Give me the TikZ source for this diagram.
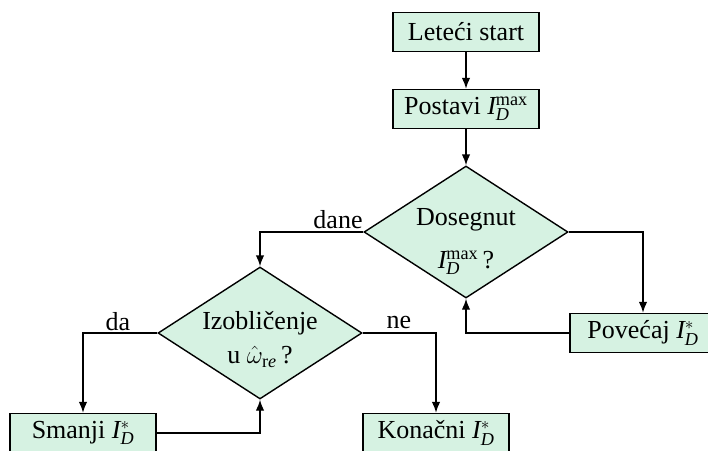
\documentclass[tikz,border=0pt]{standalone}
\usepackage{fontspec}
\setmainfont{Liberation Serif}
\setmathrm{Liberation Serif}
\usetikzlibrary{shapes.geometric,arrows.meta}
\definecolor{fillc}{RGB}{214,242,226}
\newcommand{\myI}{\mathit{I}}
\newcommand{\myD}{\mathit{D}}
\tikzset{
  fc/.style={font=\fontsize{26}{31}\selectfont},
  box/.style={draw, fill=fillc, line width=1.4pt, minimum width=146pt, minimum height=39pt, inner sep=2pt, fc},
  dia/.style={draw, fill=fillc, diamond, minimum width=204pt, minimum height=132pt, inner sep=0pt, line width=1.4pt},
  lbl/.style={fc, inner sep=0pt},
  arr/.style={-{Latex[length=11pt,width=8.5pt]}, line width=1.4pt}
}
\begin{document}
\begin{tikzpicture}[x=1pt,y=-1pt]
\clip (0,0) rectangle (708,450);
\node[box] (start) at (466,32) {Leteći start};
\node[box] (set) at (466,109) {Postavi $\myI_{\myD}^{\mathrm{max}}$};
\node[dia] (d1) at (466,232) {};
\node[lbl] (d1a) at (466,220) {Dosegnut};
\node[lbl] (d1b) at (466,263) {$\myI_{\myD}^{\mathrm{max}}$\,?};
\node[box] (inc) at (643,333) {Povećaj $\myI_{\myD}^*$};
\node[dia] (d2) at (260,333) {};
\node[lbl] (d2a) at (260,323) {Izobličenje};
\node[lbl] (d2b) at (260,357) {u $\hat\omega_{\mathrm{r}\mathit{e}}$\,?};
\node[box] (dec) at (83,433) {Smanji $\myI_{\myD}^*$};
\node[box] (fin) at (436,433) {Konačni $\myI_{\myD}^*$};
\node[lbl] (ldane) at (338,220) {dane};
\node[lbl] (lda) at (118,322) {da};
\node[lbl] (lne) at (399,322) {ne};
\draw[arr] (start) -- (set);
\draw[arr] (set) -- (d1.north);
\draw[arr] (d1.east) -| (inc.north);
\draw[arr] (inc.west) -| (d1.south);
\draw[arr] (d1.west) -| (d2.north);
\draw[arr] (d2.west) -| (dec.north);
\draw[arr] (dec.east) -| (d2.south);
\draw[arr] (d2.east) -| (fin.north);
\end{tikzpicture}
\end{document}
